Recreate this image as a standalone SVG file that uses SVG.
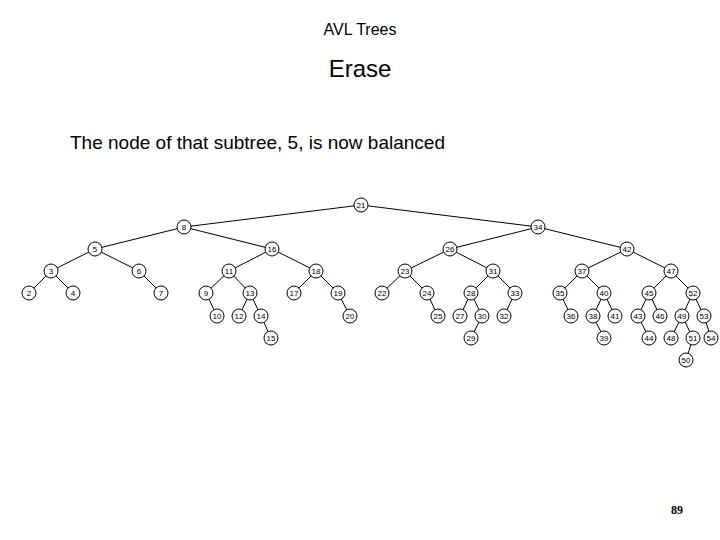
<svg xmlns="http://www.w3.org/2000/svg" width="720" height="540" viewBox="0 0 720 540">
<style>
.n circle{fill:#fff;stroke:#000;stroke-width:1}
.n text{font-family:"Liberation Sans",Arial,sans-serif;font-size:8px;text-anchor:middle;dominant-baseline:central}
#edges line{stroke:#000;stroke-width:1}
.t{font-family:"Liberation Sans",Arial,sans-serif;fill:#000}
</style>
<rect width="720" height="540" fill="#fff"/>
<text class="t" x="360" y="35" font-size="16" text-anchor="middle">AVL Trees</text>
<text class="t" x="360" y="77" font-size="24" text-anchor="middle">Erase</text>
<text class="t" x="70" y="149" font-size="19">The node of that subtree, 5, is now balanced</text>
<text x="677" y="514" font-family="Liberation Serif,serif" font-size="12" font-weight="bold" text-anchor="middle">89</text>
<g id="edges">
<line x1="361" y1="205" x2="184" y2="227"/><line x1="361" y1="205" x2="538" y2="227"/>
<line x1="184" y1="227" x2="95" y2="249"/><line x1="184" y1="227" x2="272" y2="249"/>
<line x1="95" y1="249" x2="51" y2="271"/><line x1="95" y1="249" x2="139" y2="271"/>
<line x1="272" y1="249" x2="229" y2="271"/><line x1="272" y1="249" x2="316" y2="271"/>
<line x1="51" y1="271" x2="29" y2="293"/><line x1="51" y1="271" x2="73" y2="293"/>
<line x1="139" y1="271" x2="161" y2="293"/>
<line x1="229" y1="271" x2="206" y2="293"/><line x1="229" y1="271" x2="250" y2="293"/>
<line x1="316" y1="271" x2="294" y2="293"/><line x1="316" y1="271" x2="338" y2="293"/>
<line x1="206" y1="293" x2="217" y2="316"/>
<line x1="250" y1="293" x2="239" y2="316"/><line x1="250" y1="293" x2="261" y2="316"/>
<line x1="338" y1="293" x2="350" y2="316"/>
<line x1="261" y1="316" x2="271" y2="338"/>
<line x1="538" y1="227" x2="450" y2="249"/><line x1="538" y1="227" x2="627" y2="249"/>
<line x1="450" y1="249" x2="405" y2="271"/><line x1="450" y1="249" x2="493" y2="271"/>
<line x1="627" y1="249" x2="582" y2="271"/><line x1="627" y1="249" x2="671" y2="271"/>
<line x1="405" y1="271" x2="382" y2="293"/><line x1="405" y1="271" x2="427" y2="293"/>
<line x1="493" y1="271" x2="471" y2="293"/><line x1="493" y1="271" x2="515" y2="293"/>
<line x1="582" y1="271" x2="560" y2="293"/><line x1="582" y1="271" x2="604" y2="293"/>
<line x1="671" y1="271" x2="649" y2="293"/><line x1="671" y1="271" x2="693" y2="293"/>
<line x1="427" y1="293" x2="438" y2="316"/>
<line x1="471" y1="293" x2="460" y2="316"/><line x1="471" y1="293" x2="482" y2="316"/>
<line x1="515" y1="293" x2="504" y2="316"/>
<line x1="560" y1="293" x2="571" y2="316"/>
<line x1="604" y1="293" x2="593" y2="316"/><line x1="604" y1="293" x2="615" y2="316"/>
<line x1="649" y1="293" x2="638" y2="316"/><line x1="649" y1="293" x2="660" y2="316"/>
<line x1="693" y1="293" x2="682" y2="316"/><line x1="693" y1="293" x2="704" y2="316"/>
<line x1="482" y1="316" x2="471" y2="338"/>
<line x1="593" y1="316" x2="604" y2="338"/>
<line x1="638" y1="316" x2="649" y2="338"/>
<line x1="682" y1="316" x2="671" y2="338"/><line x1="682" y1="316" x2="693" y2="338"/>
<line x1="704" y1="316" x2="711" y2="338"/>
<line x1="693" y1="338" x2="686" y2="360"/>
</g>
<g class="n" id="n21"><circle cx="361" cy="205" r="7"/><text x="361" y="205">21</text></g>
<g class="n" id="n8"><circle cx="184" cy="227" r="7"/><text x="184" y="227">8</text></g>
<g class="n" id="n5"><circle cx="95" cy="249" r="7"/><text x="95" y="249">5</text></g>
<g class="n" id="n16"><circle cx="272" cy="249" r="7"/><text x="272" y="249">16</text></g>
<g class="n" id="n3"><circle cx="51" cy="271" r="7"/><text x="51" y="271">3</text></g>
<g class="n" id="n6"><circle cx="139" cy="271" r="7"/><text x="139" y="271">6</text></g>
<g class="n" id="n11"><circle cx="229" cy="271" r="7"/><text x="229" y="271">11</text></g>
<g class="n" id="n18"><circle cx="316" cy="271" r="7"/><text x="316" y="271">18</text></g>
<g class="n" id="n2"><circle cx="29" cy="293" r="7"/><text x="29" y="293">2</text></g>
<g class="n" id="n4"><circle cx="73" cy="293" r="7"/><text x="73" y="293">4</text></g>
<g class="n" id="n7"><circle cx="161" cy="293" r="7"/><text x="161" y="293">7</text></g>
<g class="n" id="n9"><circle cx="206" cy="293" r="7"/><text x="206" y="293">9</text></g>
<g class="n" id="n13"><circle cx="250" cy="293" r="7"/><text x="250" y="293">13</text></g>
<g class="n" id="n17"><circle cx="294" cy="293" r="7"/><text x="294" y="293">17</text></g>
<g class="n" id="n19"><circle cx="338" cy="293" r="7"/><text x="338" y="293">19</text></g>
<g class="n" id="n10"><circle cx="217" cy="316" r="7"/><text x="217" y="316">10</text></g>
<g class="n" id="n12"><circle cx="239" cy="316" r="7"/><text x="239" y="316">12</text></g>
<g class="n" id="n14"><circle cx="261" cy="316" r="7"/><text x="261" y="316">14</text></g>
<g class="n" id="n20"><circle cx="350" cy="316" r="7"/><text x="350" y="316">20</text></g>
<g class="n" id="n15"><circle cx="271" cy="338" r="7"/><text x="271" y="338">15</text></g>
<g class="n" id="n34"><circle cx="538" cy="227" r="7"/><text x="538" y="227">34</text></g>
<g class="n" id="n26"><circle cx="450" cy="249" r="7"/><text x="450" y="249">26</text></g>
<g class="n" id="n42"><circle cx="627" cy="249" r="7"/><text x="627" y="249">42</text></g>
<g class="n" id="n23"><circle cx="405" cy="271" r="7"/><text x="405" y="271">23</text></g>
<g class="n" id="n31"><circle cx="493" cy="271" r="7"/><text x="493" y="271">31</text></g>
<g class="n" id="n37"><circle cx="582" cy="271" r="7"/><text x="582" y="271">37</text></g>
<g class="n" id="n47"><circle cx="671" cy="271" r="7"/><text x="671" y="271">47</text></g>
<g class="n" id="n22"><circle cx="382" cy="293" r="7"/><text x="382" y="293">22</text></g>
<g class="n" id="n24"><circle cx="427" cy="293" r="7"/><text x="427" y="293">24</text></g>
<g class="n" id="n28"><circle cx="471" cy="293" r="7"/><text x="471" y="293">28</text></g>
<g class="n" id="n33"><circle cx="515" cy="293" r="7"/><text x="515" y="293">33</text></g>
<g class="n" id="n35"><circle cx="560" cy="293" r="7"/><text x="560" y="293">35</text></g>
<g class="n" id="n40"><circle cx="604" cy="293" r="7"/><text x="604" y="293">40</text></g>
<g class="n" id="n45"><circle cx="649" cy="293" r="7"/><text x="649" y="293">45</text></g>
<g class="n" id="n52"><circle cx="693" cy="293" r="7"/><text x="693" y="293">52</text></g>
<g class="n" id="n25"><circle cx="438" cy="316" r="7"/><text x="438" y="316">25</text></g>
<g class="n" id="n27"><circle cx="460" cy="316" r="7"/><text x="460" y="316">27</text></g>
<g class="n" id="n30"><circle cx="482" cy="316" r="7"/><text x="482" y="316">30</text></g>
<g class="n" id="n32"><circle cx="504" cy="316" r="7"/><text x="504" y="316">32</text></g>
<g class="n" id="n36"><circle cx="571" cy="316" r="7"/><text x="571" y="316">36</text></g>
<g class="n" id="n38"><circle cx="593" cy="316" r="7"/><text x="593" y="316">38</text></g>
<g class="n" id="n41"><circle cx="615" cy="316" r="7"/><text x="615" y="316">41</text></g>
<g class="n" id="n43"><circle cx="638" cy="316" r="7"/><text x="638" y="316">43</text></g>
<g class="n" id="n46"><circle cx="660" cy="316" r="7"/><text x="660" y="316">46</text></g>
<g class="n" id="n49"><circle cx="682" cy="316" r="7"/><text x="682" y="316">49</text></g>
<g class="n" id="n53"><circle cx="704" cy="316" r="7"/><text x="704" y="316">53</text></g>
<g class="n" id="n29"><circle cx="471" cy="338" r="7"/><text x="471" y="338">29</text></g>
<g class="n" id="n39"><circle cx="604" cy="338" r="7"/><text x="604" y="338">39</text></g>
<g class="n" id="n44"><circle cx="649" cy="338" r="7"/><text x="649" y="338">44</text></g>
<g class="n" id="n48"><circle cx="671" cy="338" r="7"/><text x="671" y="338">48</text></g>
<g class="n" id="n51"><circle cx="693" cy="338" r="7"/><text x="693" y="338">51</text></g>
<g class="n" id="n54"><circle cx="711" cy="338" r="7"/><text x="711" y="338">54</text></g>
<g class="n" id="n50"><circle cx="686" cy="360" r="7"/><text x="686" y="360">50</text></g>
</svg>
